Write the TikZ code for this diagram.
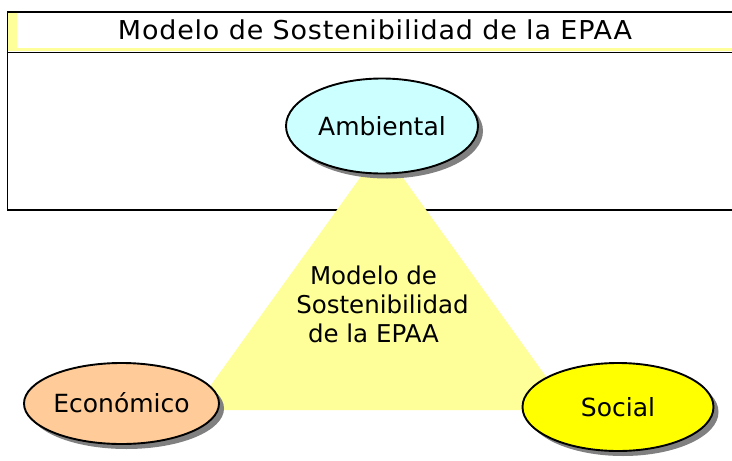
\documentclass[tikz,border=0pt]{standalone}
\usepackage{fontspec}
\usepackage{graphicx}
\setmainfont{DejaVu Sans}
\newfontfamily\titlefont[LetterSpace=3]{DejaVu Sans}
\usetikzlibrary{shapes.geometric,shadows}
\definecolor{paleyellow}{HTML}{FFFF99}
\definecolor{ambcyan}{HTML}{CCFFFF}
\definecolor{ecoorange}{HTML}{FFCC99}
\definecolor{socyellow}{HTML}{FFFF00}
\definecolor{shadowgray}{HTML}{808080}
\tikzset{
  lbl/.style={font=\fontsize{25}{30}\selectfont},
  oval/.style={ellipse, draw=black, line width=1.9pt, inner sep=0pt,
    text height=18pt, text depth=0pt,
    general shadow={fill=shadowgray, draw=none, shadow xshift=5pt, shadow yshift=-5pt}},
  frameline/.style={line width=1.5pt, draw=black}
}
\begin{document}
\begin{tikzpicture}[x=1pt,y=-1pt]
\useasboundingbox (0,0) rectangle (732,461);
\fill[white] (0,0) rectangle (732,461);
% frame
\fill[paleyellow] (8,12) rectangle (17,51);
\fill[paleyellow] (8,47.5) rectangle (740,51);
\draw[frameline] (740,12) -- (7.5,12) -- (7.5,210) -- (740,210);
\draw[frameline] (7.5,52.5) -- (740,52.5);
\node[anchor=base, inner sep=0pt] (title) at (375,39)
  {\resizebox{514pt}{\height}{\titlefont\fontsize{26}{30}\selectfont Modelo de Sostenibilidad de la EPAA}};
% triangle
\fill[paleyellow] (381.5,148) -- (570,410) -- (193,410) -- cycle;
\node[align=center, inner sep=0pt, font=\fontsize{24.5}{29}\selectfont] (model) at (382.5,304.7)
  {Modelo de\kern18pt\\Sostenibilidad\\de la EPAA\kern18pt};
% ellipses
\node[oval, lbl, fill=ambcyan, minimum width=192pt, minimum height=95pt] (amb) at (382,126) {Ambiental};
\node[oval, lbl, fill=ecoorange, minimum width=195pt, minimum height=81pt] (eco) at (121.5,403.5) {Económico};
\node[oval, lbl, fill=socyellow, minimum width=191pt, minimum height=88pt] (soc) at (618,407) {Social};
\end{tikzpicture}
\end{document}
